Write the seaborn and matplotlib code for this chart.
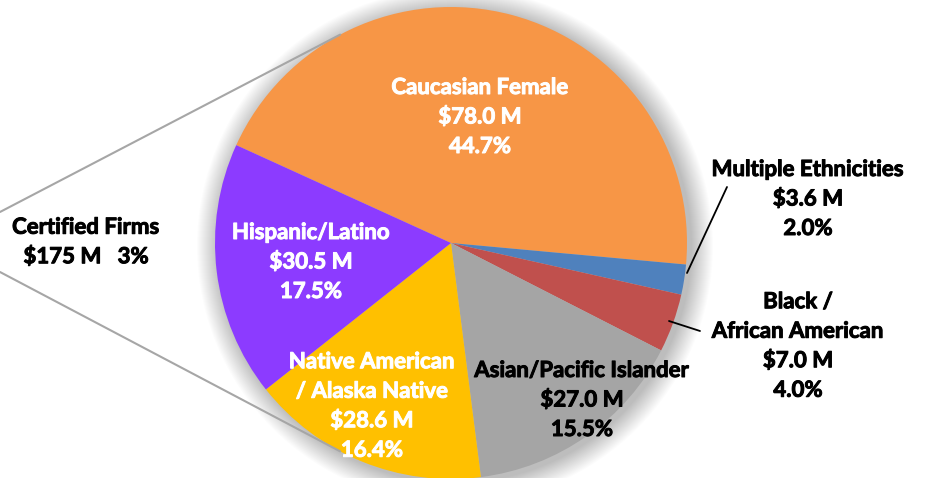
import matplotlib.pyplot as plt
import matplotlib.patheffects as pe
import seaborn as sns
import numpy as np
from matplotlib.patches import Circle

# %% data
categories = ['Caucasian Female', 'Multiple Ethnicities', 'Black /\nAfrican American',
              'Asian/Pacific Islander', 'Native American\n/ Alaska Native', 'Hispanic/Latino']
amounts = [78.0, 3.6, 7.0, 27.0, 28.6, 30.5]      # $ M
shares = [44.7, 2.0, 4.0, 15.5, 16.4, 17.5]       # %
slice_colors = ['#F79646', '#4F81BD', '#C0504D', '#A5A5A5', '#FFC000', '#8C3BFF']
text_colors = ['white', 'black', 'black', 'black', 'white', 'white']
total_name = 'Certified Firms'
total_amount = 175
total_share = 3

# %% setup
sns.set_theme(style='white')
plt.rcParams['font.family'] = ['Lato', 'DejaVu Sans']

W, H = 926, 478
fig = plt.figure(figsize=(W / 100, H / 100), dpi=100)
ax = fig.add_axes([0, 0, 1, 1])

def py(y):
    # pixel row -> data y
    return H - y

cx, cy, r = 451, py(243), 236

# soft shadow around the pie
for k in range(22, 0, -1):
    ax.add_patch(Circle((cx + 4, cy - 3), r + k, color='black', alpha=0.011, lw=0, zorder=0))

ax.pie(amounts, colors=slice_colors, startangle=155.5, counterclock=False,
       center=(cx, cy), radius=r, wedgeprops=dict(linewidth=0), frame=True)
ax.set_xlim(0, W)
ax.set_ylim(0, H)
ax.axis('off')

# %% labels (x, centre row of the text block)
label_pos = [(480, 117), (808, 199), (798, 346), (582, 400), (372, 406), (311, 262)]
fs = 16
for name, amt, sh, col, (x, y) in zip(categories, amounts, shares, text_colors, label_pos):
    txt = f'{name}\n${amt:.1f} M\n{sh:.1f}%'
    ax.text(x, py(y), txt, ha='center', va='center', color=col, fontsize=fs,
            fontweight='bold', linespacing=1.5, zorder=5,
            path_effects=[pe.withStroke(linewidth=0.7, foreground=col)])

# leader lines
ax.plot([727, 687], [py(187), py(273)], color='black', lw=1.3, zorder=4)
ax.plot([669, 700], [py(321), py(331)], color='black', lw=1.3, zorder=4)

# connector lines to the total box
for ang in (118, -118):
    ex = cx + r * np.cos(np.radians(ang))
    ey = cy + r * np.sin(np.radians(ang))
    sy = py(212) if ang > 0 else py(272)
    ax.plot([0, ex], [sy, ey], color='#A6A6A6', lw=1.5, zorder=1)

ax.text(86, py(242), f'{total_name}\n${total_amount} M   {total_share}%', ha='center',
        va='center', fontsize=fs, fontweight='bold', color='black', linespacing=1.5,
        path_effects=[pe.withStroke(linewidth=0.7, foreground='black')])

fig.savefig('out.png', dpi=100)
